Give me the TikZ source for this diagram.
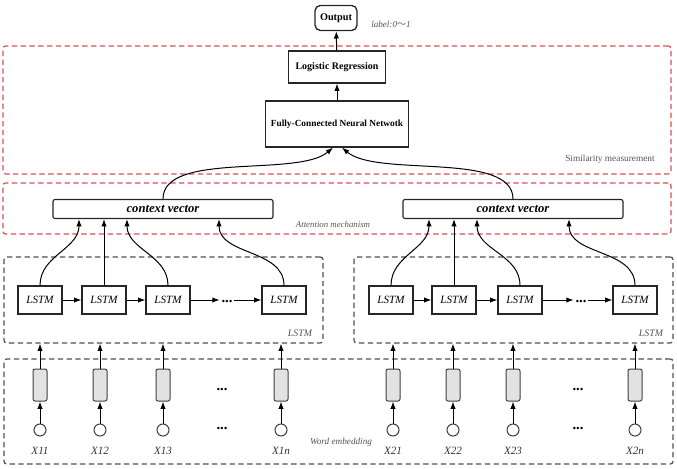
\documentclass[tikz,border=0pt]{standalone}
\usepackage{fontspec}
\setmainfont{Liberation Serif}
\newfontfamily\cjk{Noto Sans CJK SC}
\usetikzlibrary{arrows.meta,calc}
\definecolor{redline}{RGB}{218,78,88}
\definecolor{greyline}{RGB}{80,80,80}
\definecolor{embfill}{RGB}{226,226,226}
\definecolor{labgrey}{RGB}{85,85,85}
\tikzset{
  >={Latex[length=5.5pt,width=4pt]},
  blk/.style={draw=black!85,line width=0.85pt,fill=white,inner sep=1pt},
  redbox/.style={draw=redline,line width=0.9pt,dash pattern=on 4pt off 2.6pt,rounded corners=2pt},
  greybox/.style={draw=greyline,line width=0.9pt,dash pattern=on 4pt off 2.6pt,rounded corners=2pt},
  lstmcell/.style={blk,minimum width=33pt,minimum height=21pt,font=\fontsize{8.3}{9}\selectfont\itshape},
  embcell/.style={draw=black!75,line width=0.75pt,fill=embfill,rounded corners=1.5pt,minimum width=10.5pt,minimum height=24pt,inner sep=0pt},
  inp/.style={circle,draw=black!75,line width=0.75pt,minimum size=9pt,inner sep=0pt},
  xlab/.style={font=\fontsize{8.3}{9}\selectfont\itshape,text=black!80},
  note/.style={font=\fontsize{6.6}{8}\selectfont\itshape,text=labgrey},
  dots/.style={font=\fontsize{11}{12}\selectfont\bfseries,inner sep=1pt},
}
\begin{document}
\begin{tikzpicture}[x=0.75pt,y=0.75pt,line width=0.75pt]
\useasboundingbox (0,0) rectangle (677,468);
% dashed frames
\node[redbox,minimum width=501pt,minimum height=96pt] (sim) at (337,358) {};
\node[redbox,minimum width=501pt,minimum height=38.25pt] (att) at (337,259.5) {};
\node[greybox,minimum width=239.25pt,minimum height=64.5pt] (lb1) at (163.5,168) {};
\node[greybox,minimum width=239.25pt,minimum height=64.5pt] (lb2) at (513.5,168) {};
\node[greybox,minimum width=501.75pt,minimum height=78.75pt] (web) at (338.5,56.5) {};
\node[note,font=\fontsize{7}{8}\selectfont] (simlab) at (610,309) {Similarity measurement};
\node[note] (attlab) at (333,244) {Attention mechanism};
\node[note,font=\fontsize{7.4}{8}\selectfont\itshape] (lblab1) at (300,135) {LSTM};
\node[note,font=\fontsize{7.4}{8}\selectfont\itshape] (lblab2) at (651,135) {LSTM};
\node[note,font=\fontsize{6.9}{8}\selectfont\itshape] (weblab) at (341,26) {Word embedding};

% top of the network
\node[blk,rounded corners=4pt,line width=1pt,minimum width=31.5pt,minimum height=18.75pt,font=\fontsize{7.7}{9}\selectfont\bfseries] (out) at (336,450) {Output};
\node[note,font=\fontsize{6.8}{8}\selectfont\itshape] (lab) at (391,444) {label:0{\cjk\upshape ～}1};
\node[blk,minimum width=73pt,minimum height=24pt,font=\fontsize{7.5}{9}\selectfont\bfseries] (lr) at (337,401) {Logistic Regression};
\node[blk,minimum width=107pt,minimum height=34.5pt,font=\fontsize{7}{9}\selectfont\bfseries] (fc) at (337,344) {Fully-Connected Neural Netwotk};
\node[blk,rounded corners=1.5pt,minimum width=165pt,minimum height=14.25pt,font=\fontsize{9.5}{10}\selectfont\bfseries\itshape] (ctx1) at (163,259) {context vector};
\node[blk,rounded corners=1.5pt,minimum width=165pt,minimum height=14.25pt,font=\fontsize{9.5}{10}\selectfont\bfseries\itshape] (ctx2) at (513,259) {context vector};
\draw[->] (lr) -- (out);
\draw[->] (fc) -- (lr);
\draw[->] (ctx1.north) .. controls +(0,48) and +(-35,-30) .. ($(fc.south)+(-4,0)$);
\draw[->] (ctx2.north) .. controls +(0,48) and +(35,-30) .. ($(fc.south)+(5,0)$);

% LSTM layer
\foreach \n/\x in {11/40,12/104,13/168,14/284,21/391,22/454,23/520,24/635}
  \node[lstmcell] (l\n) at (\x,168) {LSTM};
\node[dots] (dl1) at (227,166) {...};
\node[dots] (dl2) at (581,166) {...};
\foreach \s in {1,2}{
  \draw[->] (l\s1) -- (l\s2);
  \draw[->] (l\s2) -- (l\s3);
  \draw[->] (l\s3) -- (dl\s.west |- l\s3);
  \draw[->] (dl\s.east |- l\s4) -- (l\s4);
  \draw[->] (l\s1.north) to[out=90,in=-90] ($(ctx\s.south)+(-84,0)$);
  \draw[->] (l\s2.north) -- (l\s2.north |- ctx\s.south);
  \draw[->] (l\s3.north) to[out=90,in=-90] ($(ctx\s.south)+(-36,0)$);
  \draw[->] (l\s4.north) to[out=90,in=-90] ($(ctx\s.south)+(56,0)$);
}

% word embedding
\foreach \n/\x in {11/40,12/100,13/163,1n/281,21/393,22/453,23/513,2n/635}{
  \node[embcell] (e\n) at (\x,83) {};
  \node[inp] (c\n) at (\x,38) {};
  \node[xlab] (t\n) at (\x,17) {X\n};
  \draw[->] (c\n) -- (e\n);
  \draw[->] (e\n) -- (e\n.north |- lb1.south);
}
\node[dots] (de1a) at (222,78) {...};
\node[dots] (de1b) at (222,39) {...};
\node[dots] (de2a) at (578,78) {...};
\node[dots] (de2b) at (578,39) {...};
\end{tikzpicture}
\end{document}
